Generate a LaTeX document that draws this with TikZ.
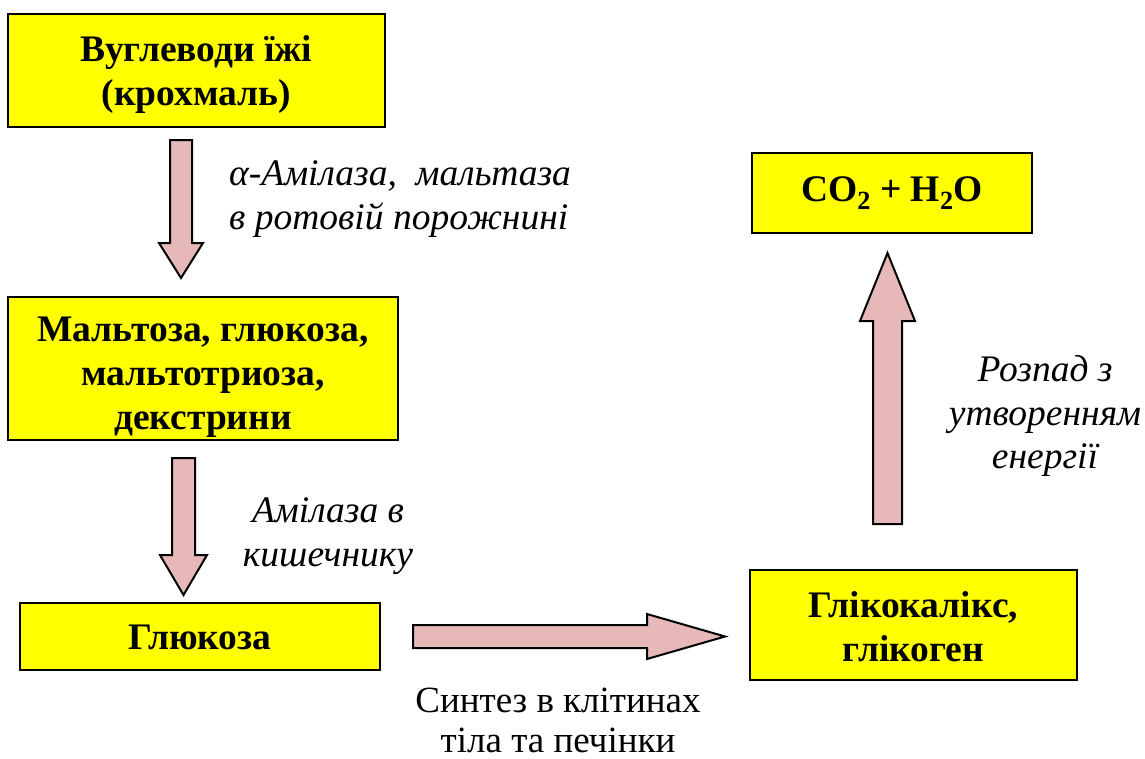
\documentclass[tikz,border=0pt]{standalone}
\usepackage{fontspec}
\setmainfont{Liberation Serif}
\definecolor{boxyellow}{HTML}{FFFF00}
\definecolor{arrowpink}{HTML}{E6B8B7}
\begin{document}
\begin{tikzpicture}[x=1pt,y=-1pt,
  box/.style={draw=black,line width=2pt,fill=boxyellow,inner sep=0pt},
  boxtext/.style={inner sep=0pt,align=center,font=\fontsize{37.5}{44}\selectfont\bfseries},
  blockarrow/.style={draw=black,line width=2pt,fill=arrowpink,line join=miter},
  lbl/.style={inner sep=0pt,font=\fontsize{37.5}{43.5}\selectfont\itshape},
  plain/.style={inner sep=0pt,align=center,font=\fontsize{37}{40}\selectfont}]
\useasboundingbox (0,0) rectangle (1145,758);
% boxes
\node[box,minimum width=377pt,minimum height=113pt] (food) at (196.5,70.5) {};
\node[boxtext] (foodt) at (196.5,74.5) {Вуглеводи їжі\\(крохмаль)};
\node[box,minimum width=390pt,minimum height=143pt] (malt) at (203,368.5) {};
\node[boxtext] (maltt) at (203,377.5) {Мальтоза, глюкоза,\\мальтотриоза,\\декстрини};
\node[box,minimum width=360pt,minimum height=67pt] (gluc) at (200,636.5) {};
\node[boxtext] (glucttt) at (200,637.5) {Глюкоза};
\node[box,minimum width=280pt,minimum height=80pt] (co2) at (892,193) {};
\node[boxtext] (co2t) at (892,193) {CO\textsubscript{2} + H\textsubscript{2}O};
\node[box,minimum width=327pt,minimum height=110pt] (glyc) at (913.5,625) {};
\node[boxtext] (glyct) at (913.5,627) {Глікокалікс,\\глікоген};
% block arrows
\draw[blockarrow] (170,140) -- (192,140) -- (192,243) -- (203,243) -- (181,278) -- (159,243) -- (170,243) -- cycle;
\draw[blockarrow] (172,458) -- (195,458) -- (195,555) -- (207,555) -- (183.5,595) -- (160,555) -- (172,555) -- cycle;
\draw[blockarrow] (413,625) -- (647,625) -- (647,614) -- (725,636.5) -- (647,659) -- (647,648) -- (413,648) -- cycle;
\draw[blockarrow] (873,524) -- (902,524) -- (902,321) -- (915,321) -- (887.5,253) -- (860,321) -- (873,321) -- cycle;
% labels
\node[lbl,anchor=west,align=left] (l1) at (229,199) {α-Амілаза,\ \ мальтаза\\в ротовій порожнині};
\node[lbl,align=center] (l2) at (328,536) {Амілаза в\\кишечнику};
\node[lbl,align=center] (l3) at (1045,416) {Розпад з\\утворенням\\енергії};
\node[plain] (l4) at (558,720) {Синтез в клітинах\\тіла та печінки};
\end{tikzpicture}
\end{document}
